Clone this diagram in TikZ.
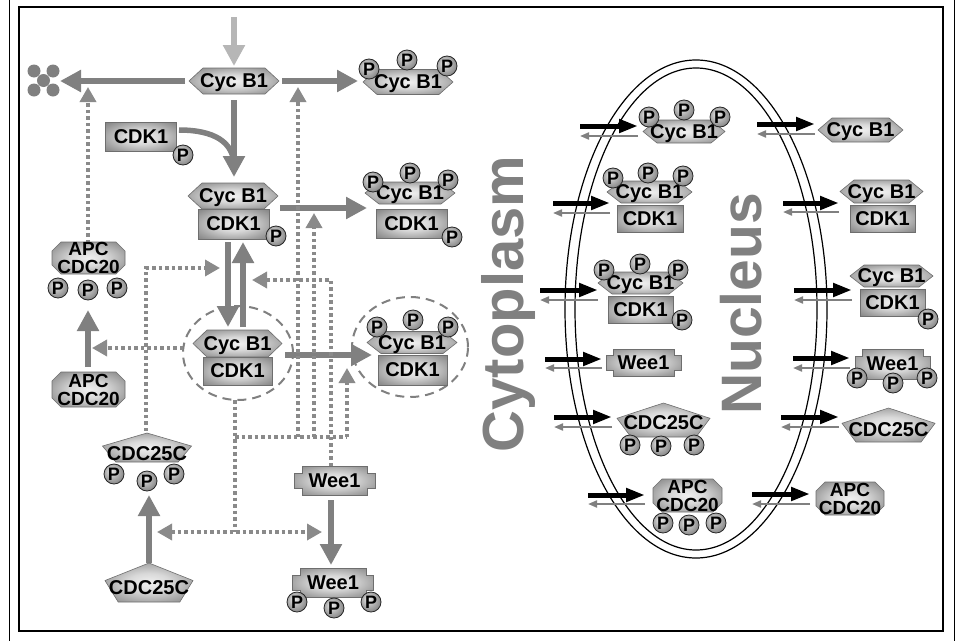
\documentclass[tikz,border=0pt]{standalone}
\usepackage{fontspec}
\setmainfont{Liberation Sans}
\usetikzlibrary{arrows.meta,shapes.geometric}
\definecolor{agray}{RGB}{128,128,128}
\definecolor{dgray}{RGB}{138,138,138}
\definecolor{lgray}{RGB}{182,182,182}
\definecolor{sedge}{RGB}{122,122,122}
\definecolor{smid}{RGB}{240,240,240}
\definecolor{tgray}{RGB}{128,128,128}
\pgfdeclareradialshading{blob}{\pgfpoint{0bp}{0bp}}{color(0bp)=(smid); color(12bp)=(smid!80!sedge); color(26bp)=(smid!35!sedge); color(38bp)=(sedge); color(50bp)=(sedge)}
\pgfdeclareradialshading{ball}{\pgfpoint{-8bp}{8bp}}{color(0bp)=(smid); color(14bp)=(gray!55); color(34bp)=(gray!90!black); color(50bp)=(gray!80!black)}
\tikzset{
  shp/.style={shading=blob, draw=sedge!90!black, line width=0.6pt},
  lbl/.style={font=\bfseries\fontsize{20}{18}\selectfont, inner sep=0pt, text depth=0pt, align=center},
  lblb/.style={font=\bfseries\fontsize{19}{18}\selectfont, inner sep=0pt, text depth=0pt, align=center},
  pb/.style={circle, minimum size=20pt, inner sep=0pt, shading=ball, draw=black!85, line width=0.8pt, font=\bfseries\fontsize{18}{18}\selectfont},
  bigarr/.style={draw=agray, line width=5.5pt, -{Triangle[length=21pt,width=21pt]}},
  bigline/.style={draw=agray, line width=5.5pt},
  lightarr/.style={draw=lgray, line width=5.5pt, -{Triangle[length=21pt,width=21pt]}},
  dotl/.style={draw=dgray, line width=3.5pt, dash pattern=on 3.5pt off 3pt},
  dotarr/.style={dotl, -{Triangle[length=15pt,width=16pt]}},
  imparr/.style={draw=black, line width=5pt, -{Triangle[length=19pt,width=13pt]}},
  exparr/.style={draw=agray, line width=2pt, -{Triangle[length=9pt,width=7pt]}},
  dashell/.style={ellipse, draw=agray, line width=2pt, dash pattern=on 9pt off 6pt, inner sep=0pt},
  bigtext/.style={font=\bfseries\fontsize{58}{58}\selectfont, text=tgray, inner sep=0pt, rotate=90, anchor=base},
}
% name cx cy hw hh
\newcommand\hexshape[5]{%
  \path[shp] (#2-#4,#3) -- (#2-#4+14,#3-#5) -- (#2+#4-14,#3-#5) -- (#2+#4,#3) -- (#2+#4-14,#3+#5) -- (#2-#4+14,#3+#5) -- cycle;
  \node[lbl] (#1) at (#2,#3) {Cyc B1};}
% name cx cy hw hh text
\newcommand\boxshape[6]{%
  \path[shp] (#2-#4,#3-#5) rectangle (#2+#4,#3+#5);
  \node[lbl] (#1) at (#2,#3) {#6};}
% name cx cy hw hh
\newcommand\octshape[5]{%
  \path[shp] (#2-#4+9,#3-#5) -- (#2+#4-9,#3-#5) -- (#2+#4,#3-#5+9) -- (#2+#4,#3+#5-9) -- (#2+#4-9,#3+#5) -- (#2-#4+9,#3+#5) -- (#2-#4,#3+#5-9) -- (#2-#4,#3-#5+9) -- cycle;
  \node[lblb] (#1) at (#2,#3) {APC\\CDC20};}
% name cx top hw bottom texty
\newcommand\pentshape[6]{%
  \path[shp] (#2,#3) -- (#2+#4,{#3+0.45*(#5-#3)}) -- ({#2+0.7*#4},#5) -- ({#2-0.7*#4},#5) -- (#2-#4,{#3+0.45*(#5-#3)}) -- cycle;
  \node[lbl] (#1) at (#2,#6) {CDC25C};}
% name cx cy hw hh tabhw tabhh
\newcommand\weeshape[7]{%
  \path[shp] (#2-#4,#3-#5) -- (#2+#4,#3-#5) -- (#2+#4,#3-#7) -- (#2+#6,#3-#7) -- (#2+#6,#3+#7) -- (#2+#4,#3+#7) -- (#2+#4,#3+#5) -- (#2-#4,#3+#5) -- (#2-#4,#3+#7) -- (#2-#6,#3+#7) -- (#2-#6,#3-#7) -- (#2-#4,#3-#7) -- cycle;
  \node[lbl] (#1) at (#2,#3) {Wee1};}
\newcommand\pball[3]{\node[pb] (#1) at (#2,#3) {P};}
% name x1 x2 yblack ygray
\newcommand\impexp[5]{%
  \coordinate (#1a) at (#2,#4); \coordinate (#1b) at (#3,#4);
  \coordinate (#1c) at (#3,#5); \coordinate (#1d) at (#2,#5);
  \draw[imparr] (#1a) -- (#1b); \draw[exparr] (#1c) -- (#1d);}
\begin{document}
\begin{tikzpicture}[x=1pt,y=-1pt]
\useasboundingbox (0,0) rectangle (960,640);
% frame
\draw[line width=2.6pt] (19,7) rectangle (943,631);
\draw[line width=1pt] (9,-5) -- (9,645);
\draw[line width=1pt] (954,-5) -- (954,645);
% nucleus membrane
\draw[line width=1.2pt] (696,309) ellipse [x radius=131, y radius=249];
\draw[line width=1.2pt] (696,309) ellipse [x radius=121, y radius=241];
% compartment labels
\node[bigtext] (cyto) at (523,304) {Cytoplasm};
\node[bigtext, font=\bfseries\fontsize{57}{57}\selectfont] (nucl) at (761,304) {Nucleus};
% degradation
\foreach \dx/\dy in {34/71,53/71,43.5/80.5,34/90,53/90} \fill[agray] (\dx,\dy) circle [radius=6.5];
\coordinate (deg) at (60,81);
% dashed ellipses
\node[dashell, minimum width=110pt, minimum height=94pt] (ellA) at (238,353) {};
\node[dashell, minimum width=116pt, minimum height=100pt] (ellB) at (410,347) {};
% solid arrows
\coordinate (l1s) at (234,17); \coordinate (l1e) at (234,66);
\draw[lightarr] (l1s) -- (l1e);
\coordinate (a2s) at (185,81);
\draw[bigarr] (a2s) -- (deg);
\coordinate (a3s) at (282,81); \coordinate (a3e) at (358,81);
\draw[bigarr] (a3s) -- (a3e);
\coordinate (a4s) at (234,100); \coordinate (a4e) at (234,177);
\draw[bigarr] (a4s) -- (a4e);
\coordinate (cs) at (179,130); \coordinate (ce) at (234,166);
\draw[bigline] (cs) .. controls (214,130) and (234,142) .. (ce);
\coordinate (a5s) at (280,208); \coordinate (a5e) at (367,208);
\draw[bigarr] (a5s) -- (a5e);
\coordinate (a6s) at (228,242); \coordinate (a6e) at (228,327);
\draw[bigarr] (a6s) -- (a6e);
\coordinate (a7s) at (243,327); \coordinate (a7e) at (243,242);
\draw[bigarr] (a7s) -- (a7e);
\coordinate (a8s) at (285,355); \coordinate (a8e) at (372,355);
\draw[bigarr] (a8s) -- (a8e);
\coordinate (a9s) at (88,367); \coordinate (a9e) at (88,310);
\draw[bigarr] (a9s) -- (a9e);
\coordinate (a10s) at (149,563); \coordinate (a10e) at (149,495);
\draw[bigarr] (a10s) -- (a10e);
\coordinate (a11s) at (331,500); \coordinate (a11e) at (331,565);
\draw[bigarr] (a11s) -- (a11e);
% dotted regulation
\coordinate (d1s) at (88,243); \coordinate (d1e) at (88,87);
\draw[dotarr] (d1s) -- (d1e);
\coordinate (d2s) at (183,348); \coordinate (d2e) at (92,348);
\draw[dotarr] (d2s) -- (d2e);
\coordinate (d3s) at (146,431); \coordinate (d3c) at (146,268); \coordinate (d3e) at (220,268);
\draw[dotarr] (d3s) -- (d3c) -- (d3e);
\coordinate (d4s) at (331,466); \coordinate (d4c) at (331,280); \coordinate (d4e) at (252,280);
\draw[dotarr] (d4s) -- (d4c) -- (d4e);
\coordinate (d5s) at (235,400); \coordinate (d5m) at (235,437); \coordinate (d5e) at (235,532);
\draw[dotl] (d5s) -- (d5e);
\coordinate (d5l) at (157,532); \coordinate (d5r) at (322,532);
\draw[dotl, {Triangle[length=15pt,width=16pt]}-{Triangle[length=15pt,width=16pt]}] (d5l) -- (d5r);
\coordinate (d6e) at (347,437);
\draw[dotl] (d5m) -- (d6e);
\coordinate (d7s) at (298,437); \coordinate (d7e) at (298,87);
\draw[dotarr] (d7s) -- (d7e);
\coordinate (d8s) at (314,437); \coordinate (d8e) at (314,213);
\draw[dotarr] (d8s) -- (d8e);
\coordinate (d9e) at (347,368);
\draw[dotarr] (d6e) -- (d9e);
% import / export arrows
\impexp{n1}{580}{638}{126}{136}
\impexp{n2}{553}{610}{203}{213}
\impexp{n3}{540}{598}{290}{300}
\impexp{n4}{545}{602}{359}{368}
\impexp{n5}{554}{612}{417}{427}
\impexp{n6}{588}{645}{495}{504}
\impexp{r1}{757}{815}{124}{134}
\impexp{r2}{783}{839}{203}{212}
\impexp{r3}{794}{852}{290}{300}
\impexp{r4}{793}{850}{358}{368}
\impexp{r5}{781}{839}{417}{427}
\impexp{r6}{752}{810}{494}{504}
% cytoplasm species
\hexshape{cbA}{234}{81}{45}{13}
\hexshape{cbB}{408}{82}{45}{12.5}
\pball{pB1}{369}{69} \pball{pB2}{407}{60} \pball{pB3}{447}{66}
\boxshape{cdkA}{141}{137}{35.5}{14.5}{CDK1}
\pball{pA1}{183}{155}
\hexshape{cbC}{233}{196}{45}{13}
\boxshape{cdkC}{233.5}{224}{35.5}{15}{CDK1}
\pball{pC1}{276}{236}
\hexshape{cbD}{410}{193}{45}{11}
\boxshape{cdkD}{411.5}{223.5}{35.5}{14.5}{CDK1}
\pball{pD1}{373}{182} \pball{pD2}{410}{173} \pball{pD3}{448}{180} \pball{pD4}{452}{237}
\hexshape{cbE}{237.5}{343.5}{44.5}{13.5}
\boxshape{cdkE}{237.5}{371}{34.5}{14}{CDK1}
\hexshape{cbF}{412}{342.5}{45}{11}
\boxshape{cdkF}{412.5}{370}{34.5}{15}{CDK1}
\pball{pF1}{377}{327} \pball{pF2}{413}{320} \pball{pF3}{448}{327}
\octshape{apcA}{88.5}{258}{36.5}{16}
\pball{pG1}{58}{288} \pball{pG2}{88}{290} \pball{pG3}{117}{288}
\octshape{apcB}{88.5}{389.5}{36.5}{17.5}
\pentshape{cdcA}{147}{433}{44.5}{462}{454}
\pball{pH1}{114}{474} \pball{pH2}{147}{481} \pball{pH3}{174}{474}
\pentshape{cdcB}{149}{563}{44}{602}{588}
\weeshape{weeA}{334.5}{480.5}{32.5}{14.5}{40.5}{7.5}
\weeshape{weeB}{333}{582.5}{33}{14.5}{40.5}{7.5}
\pball{pW1}{297}{602} \pball{pW2}{334}{608} \pball{pW3}{371}{602}
% nucleus species
\hexshape{nA}{684}{131.5}{41}{11.5}
\pball{pn1}{649}{117} \pball{pn2}{684}{110} \pball{pn3}{720}{117}
\hexshape{nB}{649.5}{192}{42.5}{11}
\boxshape{nBk}{650}{218.5}{33}{13.5}{CDK1}
\pball{pn4}{613}{178} \pball{pn5}{648}{173} \pball{pn6}{683}{176}
\hexshape{nC}{640.5}{283}{42.5}{11}
\boxshape{nCk}{640.5}{310}{32.5}{13.5}{CDK1}
\pball{pn7}{604}{270} \pball{pn8}{640}{264} \pball{pn9}{678}{270} \pball{pn10}{682}{320}
\weeshape{nD}{643.5}{362.5}{30.5}{13.5}{37.5}{7.5}
\pentshape{nE}{663.5}{403}{46.5}{437}{423}
\pball{pn11}{630}{445} \pball{pn12}{661}{446} \pball{pn13}{694}{445}
\octshape{nF}{687.5}{495.5}{34.5}{16.5}
\pball{pn14}{663}{523} \pball{pn15}{689}{525} \pball{pn16}{716}{523}
% right-hand species
\hexshape{rA}{860.5}{130}{42.5}{12}
\hexshape{rB}{881.5}{191.5}{41.5}{11.5}
\boxshape{rBk}{882.5}{218.5}{32.5}{13.5}{CDK1}
\hexshape{rC}{891.5}{276}{41.5}{11}
\boxshape{rCk}{892.5}{302.5}{32.5}{13.5}{CDK1}
\pball{pr1}{928}{319}
\weeshape{rD}{892.5}{364}{30.5}{15}{37.5}{8}
\pball{pr2}{857}{378} \pball{pr3}{893}{383} \pball{pr4}{927}{378}
\pentshape{rE}{888.5}{408}{46.5}{442}{430}
\octshape{rF}{850}{498.5}{34}{16.5}
\end{tikzpicture}
\end{document}
